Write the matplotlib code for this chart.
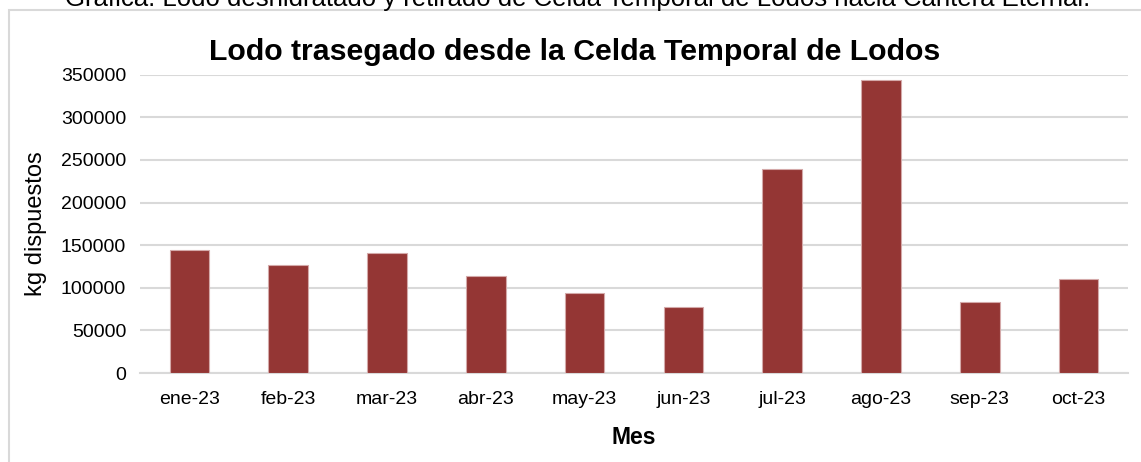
import matplotlib.pyplot as plt
import matplotlib.patches as mpatches
import numpy as np

# monthly sludge moved out of the temporary cell (kg)
meses = ['ene-23', 'feb-23', 'mar-23', 'abr-23', 'may-23',
         'jun-23', 'jul-23', 'ago-23', 'sep-23', 'oct-23']
kg = [144000, 127000, 141000, 114000, 93500,
      77000, 239500, 343500, 83000, 110500]
yticks = [0, 50000, 100000, 150000, 200000, 250000, 300000, 350000]

plt.rcParams['font.family'] = ['Liberation Sans', 'DejaVu Sans']

fig = plt.figure(figsize=(11.41, 4.62), dpi=100)

# chart frame (runs off the right and bottom edge)
frame = mpatches.Rectangle((9 / 1141, -0.1), 1.2, 1 - 10 / 462 + 0.1,
                           transform=fig.transFigure, fill=False,
                           edgecolor='#d9d9d9', linewidth=1.5)
fig.patches.append(frame)

# caption cut off at the top of the picture
fig.text(0.506, 1 - 6 / 462,
         'Gráfica: Lodo deshidratado y retirado de Celda Temporal de Lodos hacia Cantera Eternal.',
         ha='center', va='baseline', fontsize=18.5)

ax = fig.add_axes([140 / 1141, 1 - 373 / 462, 988 / 1141, 298.3 / 462])
x = np.arange(len(meses))
ax.bar(x, kg, width=0.4, color='#943634', edgecolor='#d4a9a9', linewidth=0.8, zorder=3)

ax.set_xlim(-0.5, len(meses) - 0.5)
ax.set_ylim(0, 350000)
ax.set_yticks(yticks)
ax.set_yticklabels([str(v) for v in yticks], fontsize=14)
ax.set_xticks(x)
ax.set_xticklabels(meses, fontsize=14)
ax.tick_params(axis='y', length=0, pad=10)
ax.tick_params(axis='x', length=0, pad=13)
ax.yaxis.grid(True, color='#d9d9d9', linewidth=1.5, zorder=0)
for s in ['top', 'right', 'left']:
    ax.spines[s].set_visible(False)
ax.spines['bottom'].set_color('#d9d9d9')
ax.spines['bottom'].set_linewidth(1.5)

ax.set_ylabel('kg dispuestos', fontsize=17, labelpad=10)
ax.set_xlabel('Mes', fontsize=16.5, fontweight='bold', labelpad=13)

fig.text(575 / 1141, 1 - 52 / 462, 'Lodo trasegado desde la Celda Temporal de Lodos',
         ha='center', va='center', fontsize=21.8, fontweight='bold')

fig.savefig('out.png', dpi=100)
